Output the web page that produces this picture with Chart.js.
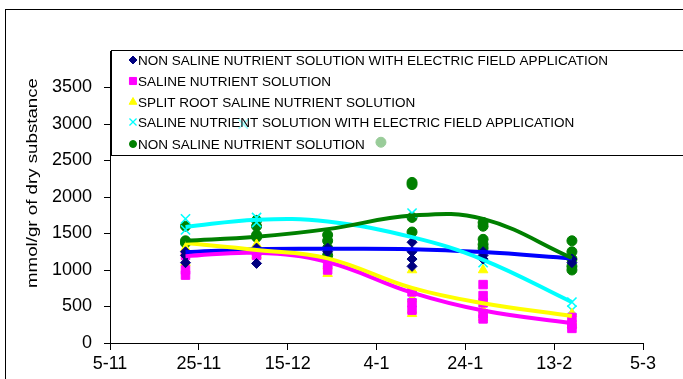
<!DOCTYPE html>
<html>
<head>
<meta charset="utf-8">
<script src="https://cdn.jsdelivr.net/npm/chart.js@4/dist/chart.umd.min.js"></script>
<style>
  html, body { margin: 0; padding: 0; background: #fff; overflow: hidden; }
  canvas { display: block; }
</style>
</head>
<body>
<canvas id="chart" width="683" height="379"></canvas>
<script>
'use strict';

// x is days after 5-11, ticks every 20 days
var X_LABELS = ['5-11', '25-11', '15-12', '4-1', '24-1', '13-2', '5-3'];
var Y_TICKS_MAX = 3500;

var SERIES_NAMES = [
  'NON SALINE NUTRIENT SOLUTION WITH ELECTRIC FIELD APPLICATION',
  'SALINE NUTRIENT SOLUTION',
  'SPLIT ROOT SALINE NUTRIENT SOLUTION',
  'SALINE NUTRIENT SOLUTION WITH ELECTRIC FIELD APPLICATION',
  'NON SALINE NUTRIENT SOLUTION'
];

var BLUE_POINTS = [[17, 1100], [17, 1200], [17, 1250], [33, 1090], [33, 1300], [49, 1300], [49, 1250],
  [68, 1380], [68, 1250], [68, 1150], [68, 1050], [84, 1250], [84, 1200], [84, 1150], [104, 1150], [104, 1100]];
var MAGENTA_POINTS = [[17, 930], [17, 1000], [17, 1200], [33, 1200], [33, 1250], [49, 1000], [49, 1080],
  [68, 700], [68, 550], [68, 450], [84, 800], [84, 650], [84, 550], [84, 400], [84, 330], [104, 350], [104, 250], [104, 200]];
var YELLOW_POINTS = [[17, 1100], [17, 1250], [17, 1300], [33, 1200], [33, 1270], [33, 1350], [49, 950], [49, 1050],
  [68, 1000], [68, 600], [68, 450], [68, 400], [84, 1000], [84, 450], [84, 350], [104, 400], [104, 300], [104, 250]];
var CYAN_POINTS = [[17, 1700], [17, 1550], [30, 3000], [33, 1720], [33, 1650], [68, 1780], [68, 1200], [68, 650],
  [84, 1200], [84, 1100], [104, 560], [104, 450]];
var GREEN_POINTS = [[17, 1600], [17, 1400], [17, 1370], [33, 1680], [33, 1600], [33, 1480], [33, 1450],
  [49, 1480], [49, 1400], [49, 1300], [49, 1200], [61, 2750], [68, 2200], [68, 2170], [68, 1720], [68, 1520],
  [84, 1650], [84, 1600], [84, 1420], [84, 1350], [84, 1300], [104, 1400], [104, 1250], [104, 1150], [104, 1050], [104, 1000]];

// trend curves at the sampling dates
var TREND_DAYS = [17, 33, 49, 68, 84, 104];
var BLUE_TREND = [1245, 1285, 1290, 1285, 1245, 1160];
var MAGENTA_TREND = [1190, 1235, 1110, 690, 445, 270];
var YELLOW_TREND = [1370, 1275, 1160, 755, 545, 370];
var CYAN_TREND = [1590, 1690, 1665, 1450, 1140, 560];
var GREEN_TREND = [1400, 1455, 1560, 1745, 1700, 1165];

var FONT = '"Liberation Sans", Arial, sans-serif';

var STYLES = [
  {marker: '#000080', line: '#0000FF', style: 'rectRot', radius: 5, legendRadius: 4},
  {marker: '#FF00FF', line: '#FF00FF', style: 'rect', radius: 6, legendRadius: 5},
  {marker: '#FFFF00', line: '#FFFF00', style: 'triangle', radius: 5.5, legendRadius: 4.5},
  {marker: '#00FFFF', line: '#00FFFF', style: 'crossRot', radius: 6.5, legendRadius: 5},
  {marker: '#008000', line: '#008000', style: 'circle', radius: 5, legendRadius: 3.5}
];

function toXY(pairs) {
  return pairs.map(function (p) { return {x: p[0], y: p[1]}; });
}

function trendXY(values) {
  return values.map(function (v, i) { return {x: TREND_DAYS[i], y: v}; });
}

var pointSets = [BLUE_POINTS, MAGENTA_POINTS, YELLOW_POINTS, CYAN_POINTS, GREEN_POINTS];
var trendSets = [BLUE_TREND, MAGENTA_TREND, YELLOW_TREND, CYAN_TREND, GREEN_TREND];

var datasets = [];
pointSets.forEach(function (pts, i) {
  var s = STYLES[i];
  datasets.push({
    type: 'scatter',
    label: SERIES_NAMES[i],
    data: toXY(pts),
    pointStyle: s.style,
    pointRadius: s.radius,
    backgroundColor: s.marker,
    borderColor: s.marker,
    borderWidth: s.style === 'crossRot' ? 1.6 : 1,
    order: 10
  });
});
trendSets.forEach(function (vals, i) {
  datasets.push({
    type: 'line',
    label: 'trend ' + i,
    data: trendXY(vals),
    borderColor: STYLES[i].line,
    borderWidth: 4,
    pointRadius: 0,
    fill: false,
    tension: 0.4,
    order: 5 - i
  });
});

var framePlugin = {
  id: 'frame',
  beforeDraw: function (chart) {
    var ctx = chart.ctx;
    ctx.save();
    ctx.fillStyle = '#fff';
    ctx.fillRect(0, 0, chart.width, chart.height);
    ctx.strokeStyle = '#000';
    ctx.lineWidth = 1;
    ctx.strokeRect(5.5, 9.5, 800, 800);
    ctx.restore();
  },
  afterDraw: function (chart) {
    var ctx = chart.ctx;
    ctx.save();
    // y axis title
    ctx.translate(33, 183);
    ctx.rotate(-Math.PI / 2);
    ctx.font = '15px ' + FONT;
    ctx.fillStyle = '#000';
    ctx.textAlign = 'center';
    ctx.textBaseline = 'middle';
    var title = 'mmol/gr of dry substance';
    var tw = ctx.measureText(title).width;
    ctx.scale(210 / tw, 1);
    ctx.fillText(title, 0, 0);
    ctx.restore();

    // legend box over the upper plot
    ctx.save();
    ctx.fillStyle = 'rgba(255,255,255,0.6)';
    ctx.fillRect(111, 50, 600, 105);
    ctx.strokeStyle = '#000';
    ctx.lineWidth = 1;
    ctx.strokeRect(111.5, 50.5, 600, 105);
    ctx.font = '13.5px ' + FONT;
    ctx.textBaseline = 'middle';
    ctx.textAlign = 'left';
    var scaleX = 470 / ctx.measureText(SERIES_NAMES[0]).width;
    var rows = [60, 81, 102, 122, 144];
    SERIES_NAMES.forEach(function (name, i) {
      var s = STYLES[i];
      ctx.fillStyle = s.marker;
      ctx.strokeStyle = s.marker;
      ctx.lineWidth = s.style === 'crossRot' ? 1.3 : 1;
      Chart.helpers.drawPoint(ctx, {pointStyle: s.style, radius: s.legendRadius, rotation: 0, borderWidth: ctx.lineWidth}, 133, rows[i]);
      ctx.save();
      ctx.translate(138, rows[i]);
      ctx.scale(scaleX, 1);
      ctx.fillStyle = '#000';
      ctx.fillText(name, 0, 1);
      ctx.restore();
    });
    ctx.restore();
  }
};

new Chart(document.getElementById('chart'), {
  type: 'scatter',
  data: {datasets: datasets},
  plugins: [framePlugin],
  options: {
    responsive: false,
    animation: false,
    devicePixelRatio: 1,
    layout: {padding: {left: 0, right: 40, top: 51, bottom: 0}},
    plugins: {legend: {display: false}, tooltip: {enabled: false}},
    scales: {
      x: {
        type: 'linear',
        min: 0,
        max: 120,
        afterFit: function (scale) { scale.height = 36; },
        border: {color: '#000', width: 1},
        grid: {drawOnChartArea: false, drawTicks: true, tickLength: 7, color: '#000'},
        ticks: {
          stepSize: 20,
          padding: 3,
          color: '#000',
          font: {family: FONT, size: 18},
          maxRotation: 0,
          callback: function (v) { return X_LABELS[v / 20]; }
        }
      },
      y: {
        min: 0,
        max: 4000,
        afterFit: function (scale) { scale.width = 110; },
        border: {color: '#000', width: 1},
        grid: {
          drawOnChartArea: false,
          drawTicks: true,
          tickLength: 6,
          color: '#000',
          tickColor: function (c) { return c.tick && c.tick.value > Y_TICKS_MAX ? 'rgba(0,0,0,0)' : '#000'; }
        },
        ticks: {
          stepSize: 500,
          padding: 12,
          color: '#000',
          font: {family: FONT, size: 18},
          callback: function (v) { return v > Y_TICKS_MAX ? '' : v; }
        }
      }
    }
  }
});
</script>
</body>
</html>
